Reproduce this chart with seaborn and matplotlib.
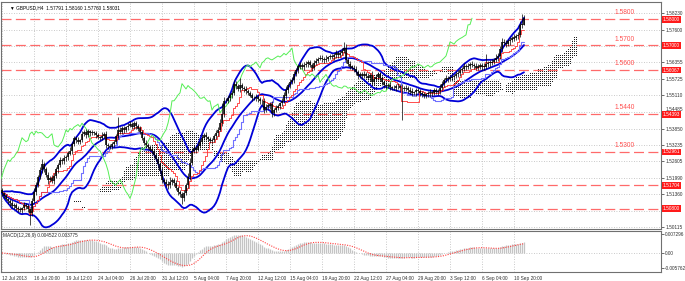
import numpy as np
import pandas as pd
import matplotlib
matplotlib.use("Agg")
import matplotlib.pyplot as plt
import matplotlib.transforms as mtransforms
import seaborn as sns

# ---------------- data ----------------
first_open = 1.5150
closes = [
    1.5140, 1.5128, 1.5118, 1.5110, 1.5102, 1.5090, 1.5096, 1.5085, 1.5080, 1.5075,
    1.5082, 1.5095, 1.5090, 1.5078, 1.5065, 1.5110, 1.5145, 1.5172, 1.5200, 1.5228,
    1.5250, 1.5232, 1.5210, 1.5190, 1.5198, 1.5185, 1.5205, 1.5230, 1.5248, 1.5266,
    1.5260, 1.5272, 1.5277, 1.5290, 1.5300, 1.5325, 1.5350, 1.5342, 1.5335, 1.5340,
    1.5365, 1.5372, 1.5360, 1.5375, 1.5368, 1.5370, 1.5368, 1.5360, 1.5352, 1.5350,
    1.5358, 1.5365, 1.5323, 1.5318, 1.5315, 1.5325, 1.5335, 1.5355, 1.5380, 1.5372,
    1.5385, 1.5380, 1.5390, 1.5395, 1.5400, 1.5392, 1.5405, 1.5395, 1.5385, 1.5370,
    1.5350, 1.5330, 1.5322, 1.5315, 1.5305, 1.5300, 1.5285, 1.5268, 1.5250, 1.5225,
    1.5190, 1.5182, 1.5175, 1.5170, 1.5182, 1.5190, 1.5178, 1.5160, 1.5145, 1.5135,
    1.5120, 1.5140, 1.5170, 1.5200, 1.5255, 1.5300, 1.5312, 1.5305, 1.5320, 1.5335,
    1.5350, 1.5360, 1.5352, 1.5345, 1.5338, 1.5340, 1.5355, 1.5368, 1.5380, 1.5405,
    1.5440, 1.5490, 1.5490, 1.5500, 1.5512, 1.5520, 1.5555, 1.5545, 1.5535, 1.5548,
    1.5540, 1.5535, 1.5528, 1.5520, 1.5510, 1.5500, 1.5500, 1.5505, 1.5495, 1.5488,
    1.5490, 1.5455, 1.5468, 1.5472, 1.5478, 1.5444, 1.5455, 1.5463, 1.5470, 1.5480,
    1.5490, 1.5510, 1.5530, 1.5550, 1.5562, 1.5570, 1.5590, 1.5605, 1.5620, 1.5626,
    1.5618, 1.5626, 1.5630, 1.5637, 1.5625, 1.5615, 1.5634, 1.5640, 1.5650, 1.5653,
    1.5648, 1.5645, 1.5650, 1.5655, 1.5660, 1.5656, 1.5662, 1.5670, 1.5664, 1.5672,
    1.5680, 1.5690, 1.5645, 1.5630, 1.5620, 1.5615, 1.5610, 1.5598, 1.5584, 1.5590,
    1.5584, 1.5592, 1.5585, 1.5578, 1.5588, 1.5560, 1.5572, 1.5580, 1.5590, 1.5575,
    1.5562, 1.5550, 1.5545, 1.5548, 1.5542, 1.5540, 1.5538, 1.5546, 1.5545, 1.5538,
    1.5540, 1.5536, 1.5540, 1.5532, 1.5525, 1.5520, 1.5522, 1.5530, 1.5527, 1.5518,
    1.5515, 1.5510, 1.5514, 1.5518, 1.5522, 1.5520, 1.5530, 1.5525, 1.5527, 1.5540,
    1.5555, 1.5570, 1.5575, 1.5572, 1.5578, 1.5580, 1.5585, 1.5590, 1.5596, 1.5605,
    1.5612, 1.5620, 1.5618, 1.5622, 1.5630, 1.5626, 1.5622, 1.5615, 1.5620, 1.5625,
    1.5618, 1.5620, 1.5628, 1.5632, 1.5635, 1.5637, 1.5645, 1.5652, 1.5660, 1.5685,
    1.5713, 1.5710, 1.5705, 1.5715, 1.5721, 1.5726, 1.5730, 1.5735, 1.5740, 1.5778,
    1.5779, 1.58031,
]
upper_wick_pips = [
    8, 6, 10, 5, 7, 12, 6, 8, 5, 9,
    7, 10, 6, 8, 5, 12, 15, 10, 8, 12,
    20, 8, 6, 10, 7, 9, 12, 8, 6, 10,
    8, 12, 6, 9, 14, 10, 8, 6, 12, 7,
    10, 8, 12, 9, 6, 10, 7, 8, 9, 6,
    12, 8, 10, 6, 8, 9, 7, 10, 49, 12,
    8, 10, 6, 9, 12, 8, 10, 7, 6, 9,
    8, 6, 10, 7, 9, 12, 6, 8, 10, 9,
    15, 8, 10, 12, 18, 9, 7, 10, 8, 6,
    9, 12, 10, 15, 20, 12, 10, 8, 12, 9,
    10, 8, 12, 6, 9, 10, 8, 12, 10, 15,
    40, 15, 12, 10, 8, 10, 15, 12, 9, 30,
    10, 8, 12, 6, 9, 10, 8, 12, 6, 9,
    8, 12, 9, 10, 6, 10, 8, 12, 9, 7,
    10, 12, 15, 8, 10, 9, 12, 8, 10, 12,
    8, 10, 12, 6, 9, 8, 10, 12, 7, 9,
    10, 8, 12, 6, 9, 8, 10, 12, 7, 9,
    12, 23, 15, 8, 10, 6, 9, 12, 8, 10,
    9, 12, 8, 10, 6, 15, 9, 12, 10, 8,
    9, 7, 10, 8, 12, 6, 9, 8, 10, 7,
    12, 8, 10, 6, 9, 12, 7, 8, 10, 9,
    8, 10, 6, 9, 12, 7, 10, 8, 9, 12,
    10, 8, 12, 9, 7, 10, 8, 12, 9, 10,
    8, 12, 9, 10, 7, 12, 8, 10, 9, 8,
    10, 12, 40, 8, 10, 12, 9, 15, 10, 12,
    15, 10, 12, 8, 10, 9, 12, 8, 10, 15,
    41, 13,
]
lower_wick_pips = [
    10, 8, 6, 12, 9, 7, 10, 8, 12, 6,
    9, 7, 12, 8, 45, 10, 8, 12, 9, 7,
    10, 12, 8, 15, 9, 6, 10, 8, 12, 9,
    8, 10, 9, 12, 6, 10, 8, 12, 9, 10,
    7, 9, 12, 8, 10, 6, 9, 12, 8, 10,
    9, 8, 12, 10, 7, 9, 12, 8, 10, 6,
    9, 12, 8, 10, 6, 9, 8, 12, 10, 7,
    10, 8, 12, 9, 6, 10, 12, 8, 15, 10,
    12, 8, 10, 15, 9, 12, 10, 8, 12, 10,
    20, 10, 8, 12, 9, 10, 8, 12, 6, 9,
    10, 8, 12, 9, 7, 10, 8, 9, 12, 6,
    10, 12, 8, 9, 10, 12, 8, 10, 9, 12,
    8, 10, 12, 9, 6, 10, 8, 12, 9, 10,
    12, 10, 8, 9, 12, 15, 10, 8, 9, 12,
    10, 8, 12, 9, 10, 8, 12, 6, 9, 10,
    8, 12, 9, 10, 8, 12, 9, 10, 8, 6,
    9, 12, 8, 10, 7, 9, 12, 8, 10, 9,
    8, 10, 12, 9, 10, 8, 12, 9, 10, 8,
    12, 9, 10, 8, 12, 10, 9, 8, 12, 10,
    12, 10, 9, 8, 12, 10, 8, 12, 10, 9,
    120, 10, 8, 12, 9, 10, 8, 12, 9, 10,
    12, 9, 10, 8, 12, 10, 9, 8, 12, 10,
    8, 12, 10, 9, 8, 12, 10, 9, 8, 12,
    10, 8, 12, 9, 10, 8, 12, 10, 9, 8,
    12, 10, 9, 8, 12, 10, 9, 8, 12, 10,
    9, 12, 10, 8, 12, 9, 10, 8, 12, 9,
    10, 3,
]

date_labels = ["12 Jul 2013", "16 Jul 20:00", "19 Jul 12:00", "24 Jul 04:00",
               "26 Jul 20:00", "31 Jul 12:00", "5 Aug 04:00", "7 Aug 20:00",
               "12 Aug 12:00", "15 Aug 04:00", "19 Aug 20:00", "22 Aug 12:00",
               "27 Aug 04:00", "29 Aug 20:00", "3 Sep 12:00", "6 Sep 04:00",
               "10 Sep 20:00"]
bars_per_label = 16

price_tick_labels = ["1.58230", "1.57600", "1.56980", "1.56355", "1.55725", "1.55110",
                     "1.54485", "1.53850", "1.53235", "1.52605", "1.51990", "1.51360",
                     "1.50740", "1.50115"]
level_box_labels = ["1.58000", "1.57000", "1.56067", "1.54393", "1.52961", "1.51704", "1.50800"]
level_text_labels = ["1.5800", "1.5700", "1.5600", "1.5440", "1.5300"]
macd_tick_labels = ["0.007296", "0.00", "-0.005762"]
title_text = "\u25BC GBPUSD,H4  1.57791 1.58160 1.57760 1.58031"
macd_text = "MACD(12,26,9) 0.004522 0.003775"

# ---------------- derived series ----------------
n = len(closes)
x = np.arange(n)
c = pd.Series(closes, dtype=float)
o = pd.Series([first_open] + closes[:-1], dtype=float)
top = np.maximum(o, c)
bot = np.minimum(o, c)
h = top + np.array(upper_wick_pips) / 10000.0
l = bot - np.array(lower_wick_pips) / 10000.0

mid = c.rolling(20, min_periods=1).mean()
sd = c.rolling(20, min_periods=1).std(ddof=0).fillna(0)
bb_up = mid + 2 * sd
bb_lo = mid - 2 * sd

tenkan = (h.rolling(9, min_periods=1).max() + l.rolling(9, min_periods=1).min()) / 2
kijun = (h.rolling(26, min_periods=1).max() + l.rolling(26, min_periods=1).min()) / 2
span_a = (tenkan + kijun) / 2
span_b = (h.rolling(52, min_periods=1).max() + l.rolling(52, min_periods=1).min()) / 2

ema12 = c.ewm(span=12, adjust=False).mean()
ema26 = c.ewm(span=26, adjust=False).mean()
macd = ema12 - ema26
signal = macd.rolling(9, min_periods=1).mean()

# ---------------- figure ----------------
sns.set_style("white")
plt.rcParams["font.family"] = ["Liberation Sans", "DejaVu Sans"]

W, H = 685, 281
fig = plt.figure(figsize=(W / 100, H / 100), dpi=100)
ax = fig.add_axes([1 / W, 1 - 229 / H, 660 / W, 227 / H])
axm = fig.add_axes([1 / W, 1 - 272 / H, 660 / W, 41 / H], sharex=ax)

xmax = 329.5
ymin, ymax = 1.50039, 1.58647
ax.set_xlim(-0.5, xmax)
ax.set_ylim(ymin, ymax)
axm.set_ylim(-0.007298, 0.008448)
px_price = (ymax - ymin) / 227.0

grid_col = "#b8b8b8"
grid_ls = (0, (1, 2))
tick_pos = [i * bars_per_label for i in range(len(date_labels))]
price_ticks = [float(t) for t in price_tick_labels]
for tp in tick_pos:
    ax.axvline(tp, color=grid_col, lw=0.6, ls=grid_ls, zorder=0)
    axm.axvline(tp, color=grid_col, lw=0.6, ls=grid_ls, zorder=0)
for pt in price_ticks:
    ax.axhline(pt, color=grid_col, lw=0.6, ls=grid_ls, zorder=0)
axm.axhline(0, color=grid_col, lw=0.6, ls=grid_ls, zorder=0)

# Ichimoku cloud: dotted fill between Senkou span A and B (shifted 26 bars)
step = 2 * px_price
cx, cy = [], []
for i in range(n):
    lo_v = min(span_a[i], span_b[i])
    hi_v = max(span_a[i], span_b[i])
    k0 = int(np.ceil(lo_v / step))
    k1 = int(np.floor(hi_v / step))
    for k in range(k0, k1 + 1):
        cx.append(i + 26)
        cy.append(k * step)
ax.plot(cx, cy, ls="none", marker=",", color="#202020", zorder=1)

# horizontal levels
level_vals = [float(v) for v in level_box_labels]
for v in level_vals:
    ax.axhline(v, color="#ff6a6a", lw=0.9, ls=(0, (8, 3.5)), zorder=2)

# Bollinger bands
for s in (bb_up, mid, bb_lo):
    sns.lineplot(x=x, y=s.values, ax=ax, color="#0000d8", linewidth=1.3,
                 errorbar=None, zorder=3)
# Ichimoku lines
sns.lineplot(x=x, y=kijun.values, ax=ax, color="#7070ff", linewidth=0.8,
             errorbar=None, drawstyle="steps-mid", zorder=3)
sns.lineplot(x=x, y=tenkan.values, ax=ax, color="#ff3030", linewidth=0.6,
             errorbar=None, drawstyle="steps-mid", zorder=3)
sns.lineplot(x=x - 26, y=c.values, ax=ax, color="#55ee55", linewidth=0.7,
             errorbar=None, zorder=3)

# candles
ax.vlines(x, l, h, colors="black", lw=0.5, zorder=4)
ax.vlines(x, bot, top + 0.00004, colors="black", lw=1.1, zorder=4)

# level texts
for lab, v in zip(level_text_labels, level_vals[:5]):
    ax.text(306.5, v + 0.0011, lab, color="#ff5050", fontsize=4.8,
            ha="left", va="bottom", zorder=6)

# title
ax.text(4, ymax - 0.0011, title_text, fontsize=3.4, ha="left", va="top",
        color="black", zorder=7)

# right axis
shown_labels = [lab if min(abs(float(lab) - v) for v in level_vals) > 0.0008 else ""
                for lab in price_tick_labels]
ax.yaxis.tick_right()
ax.set_yticks(price_ticks)
ax.set_yticklabels(shown_labels)
ax.tick_params(axis="y", labelsize=3.4, length=2, width=0.5, pad=1, colors="#303030")
ax.tick_params(axis="x", bottom=False, labelbottom=False)
for t in ax.get_yticklabels():
    if t.get_text() == "1.54485":
        t.set_va("bottom")
trans = mtransforms.blended_transform_factory(ax.transAxes, ax.transData)
for lab, v in zip(level_box_labels, level_vals):
    ax.text(1.0025, v, lab, transform=trans, fontsize=3.4, color="white",
            ha="left", va="center", clip_on=False, zorder=10,
            bbox=dict(boxstyle="square,pad=0.2", fc="#ff1a1a", ec="none"))

# MACD
axm.vlines(x, 0, macd, colors="#c4c4c4", lw=0.9, zorder=2)
sns.lineplot(x=x, y=signal.values, ax=axm, color="#ff4040", linewidth=0.8,
             linestyle=(0, (1, 1.2)), errorbar=None, zorder=3)
axm.text(0.003, 0.95, macd_text, transform=axm.transAxes, fontsize=3.4,
         ha="left", va="top")
axm.yaxis.tick_right()
axm.set_yticks([float(t) for t in macd_tick_labels])
axm.set_yticklabels(macd_tick_labels)
axm.tick_params(axis="y", labelsize=3.4, length=2, width=0.5, pad=1, colors="#303030")
axm.set_xticks(tick_pos)
axm.set_xticklabels(date_labels)
for t in axm.get_xticklabels():
    t.set_ha("left")
axm.tick_params(axis="x", labelsize=3.4, length=2, width=0.5, pad=1, colors="#303030")

for a in (ax, axm):
    a.set_xlabel("")
    a.set_ylabel("")
    for sp in a.spines.values():
        sp.set_visible(True)
        sp.set_color("#707070")
        sp.set_linewidth(0.8)

fig.savefig("out.png", dpi=100, facecolor="white")
